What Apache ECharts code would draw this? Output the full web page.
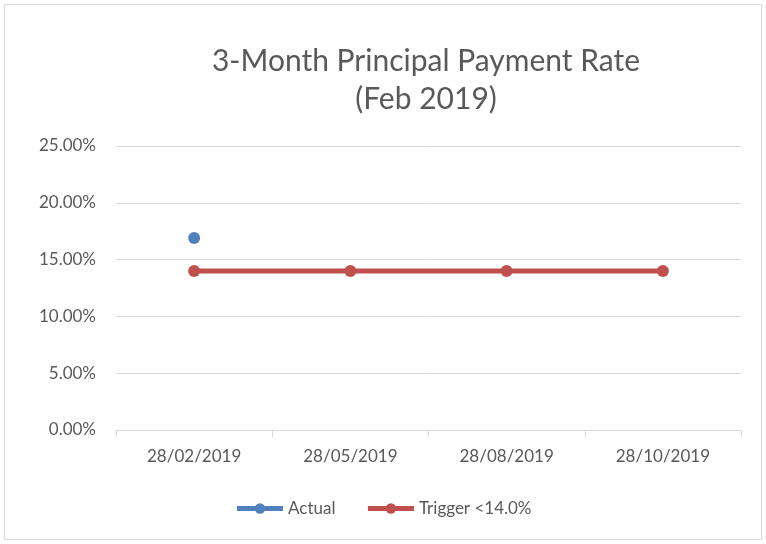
<!DOCTYPE html>
<html>
<head>
<meta charset="utf-8">
<script src="https://cdn.jsdelivr.net/npm/echarts@6/dist/echarts.min.js"></script>
<style>
html, body { margin: 0; padding: 0; background: #fff; }
#chart { width: 766px; height: 544px; }
</style>
</head>
<body>
<div id="chart"></div>
<script>
var dates = ['28/02/2019', '28/05/2019', '28/08/2019', '28/10/2019'];
var actualValues = [16.9, null, null, null];
var triggerValues = [14.0, 14.0, 14.0, 14.0];
var seriesNames = ['Actual', 'Trigger <14.0%'];

var chart = echarts.init(document.getElementById('chart'));
var fontName = 'Lato';
var textColor = '#595959';

var option = {
  backgroundColor: '#fff',
  animation: false,
  graphic: [{
    type: 'rect',
    shape: { x: 4.5, y: 4.5, width: 757, height: 535 },
    style: { fill: 'none', stroke: '#d9d9d9', lineWidth: 1 }
  }],
  title: {
    text: '3-Month Principal Payment Rate\n(Feb 2019)',
    left: 421,
    top: 37,
    textAlign: 'center',
    textStyle: {
      fontFamily: fontName,
      fontWeight: 'normal',
      fontSize: 30,
      lineHeight: 38,
      color: textColor
    }
  },
  legend: {
    data: seriesNames,
    bottom: 22,
    left: 'center',
    itemWidth: 46,
    itemHeight: 13,
    itemGap: 30,
    lineStyle: { width: 5 },
    textStyle: { fontFamily: fontName, fontSize: 17, color: textColor }
  },
  grid: { left: 116, right: 25, top: 146, bottom: 114 },
  xAxis: {
    type: 'category',
    data: dates,
    boundaryGap: true,
    axisLine: { lineStyle: { color: '#d9d9d9', width: 1 } },
    axisTick: { show: true, length: 7, lineStyle: { color: '#d9d9d9' } },
    axisLabel: { fontFamily: fontName, fontSize: 17, color: textColor, margin: 18 }
  },
  yAxis: {
    type: 'value',
    min: 0,
    max: 25,
    interval: 5,
    axisLine: { show: false },
    axisTick: { show: false },
    splitLine: { lineStyle: { color: '#d9d9d9', width: 1 } },
    axisLabel: {
      fontFamily: fontName, fontSize: 17, color: textColor, margin: 20,
      formatter: function (v) { return v.toFixed(2) + '%'; }
    }
  },
  series: [{
    name: seriesNames[0],
    type: 'line',
    data: actualValues,
    symbol: 'circle',
    symbolSize: 12,
    itemStyle: { color: '#4f81bd' },
    lineStyle: { color: '#4f81bd', width: 5 }
  }, {
    name: seriesNames[1],
    type: 'line',
    data: triggerValues,
    symbol: 'circle',
    symbolSize: 12,
    itemStyle: { color: '#c0504d' },
    lineStyle: { color: '#c0504d', width: 5 }
  }]
};

chart.setOption(option);
</script>
</body>
</html>
